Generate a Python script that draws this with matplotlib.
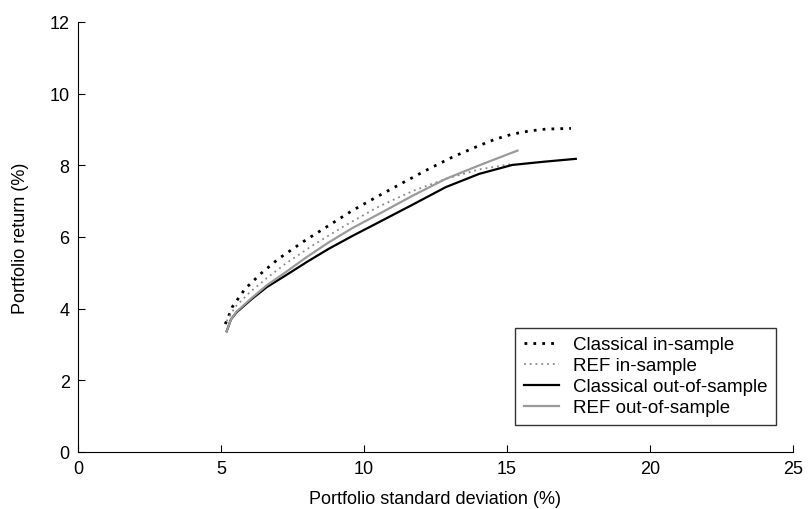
import numpy as np
import matplotlib
matplotlib.use("Agg")
import matplotlib.pyplot as plt

# efficient frontiers (std dev %, return %)
cls_in_x = [5.15, 5.4, 5.84, 6.4, 7.01, 7.9, 8.77, 9.6, 10.52, 11.4, 12.27, 13.1, 14.03, 14.6, 15.19, 15.8, 16.36, 17.24]
cls_in_y = [3.57, 4.05, 4.55, 4.98, 5.39, 5.88, 6.32, 6.74, 7.15, 7.53, 7.90, 8.23, 8.55, 8.73, 8.87, 8.96, 9.01, 9.03]

ref_in_x = [5.2, 5.5, 6.0, 6.6, 7.25, 8.18, 9.3, 10.52, 11.7, 12.86, 14.0, 15.19]
ref_in_y = [3.65, 4.05, 4.45, 4.85, 5.25, 5.75, 6.3, 6.85, 7.28, 7.62, 7.88, 8.04]

cls_out_x = [5.2, 5.35, 5.55, 6.08, 6.6, 7.25, 8.0, 8.77, 9.6, 10.52, 11.7, 12.86, 14.03, 15.19, 16.3, 17.41]
cls_out_y = [3.37, 3.7, 3.9, 4.27, 4.6, 4.92, 5.3, 5.67, 6.03, 6.41, 6.9, 7.39, 7.76, 8.01, 8.1, 8.18]

ref_out_x = [5.2, 5.35, 5.55, 6.08, 6.6, 7.25, 8.0, 8.77, 9.6, 10.52, 11.7, 12.86, 14.1, 15.37]
ref_out_y = [3.37, 3.7, 3.92, 4.3, 4.65, 5.01, 5.44, 5.85, 6.25, 6.64, 7.15, 7.62, 8.02, 8.41]

plt.rcParams['font.family'] = ['Liberation Sans', 'DejaVu Sans']

fig = plt.figure(figsize=(8.09, 5.10), dpi=100)
ax = fig.add_axes([0.0964, 0.1118, 0.8836, 0.8432])

ax.plot(cls_in_x, cls_in_y, color='k', linestyle=(0, (1, 2.2)), linewidth=2.0, label='Classical in-sample')
ax.plot(ref_in_x, ref_in_y, color='#888888', linestyle=(0, (1, 2.2)), linewidth=1.3, label='REF in-sample')
ax.plot(cls_out_x, cls_out_y, color='k', linestyle='-', linewidth=1.6, label='Classical out-of-sample')
ax.plot(ref_out_x, ref_out_y, color='#9a9a9a', linestyle='-', linewidth=1.6, label='REF out-of-sample')

ax.set_xlim(0, 25)
ax.set_ylim(0, 12)
ax.set_xticks([0, 5, 10, 15, 20, 25])
ax.set_yticks([0, 2, 4, 6, 8, 10, 12])
ax.spines['top'].set_visible(False)
ax.spines['right'].set_visible(False)
ax.tick_params(direction='in', length=5, labelsize=13, pad=6)

ax.set_xlabel('Portfolio standard deviation (%)', fontsize=13, labelpad=9)
ax.set_ylabel('Portfolio return (%)', fontsize=13, labelpad=15)

leg = ax.legend(loc='lower right', bbox_to_anchor=(0.99, 0.042), fontsize=13.5, frameon=True,
                fancybox=False, edgecolor='k', handlelength=1.9, handletextpad=0.75,
                borderpad=0.45, labelspacing=0.2)
leg.get_frame().set_linewidth(1.0)

fig.savefig('out.png', dpi=100)
